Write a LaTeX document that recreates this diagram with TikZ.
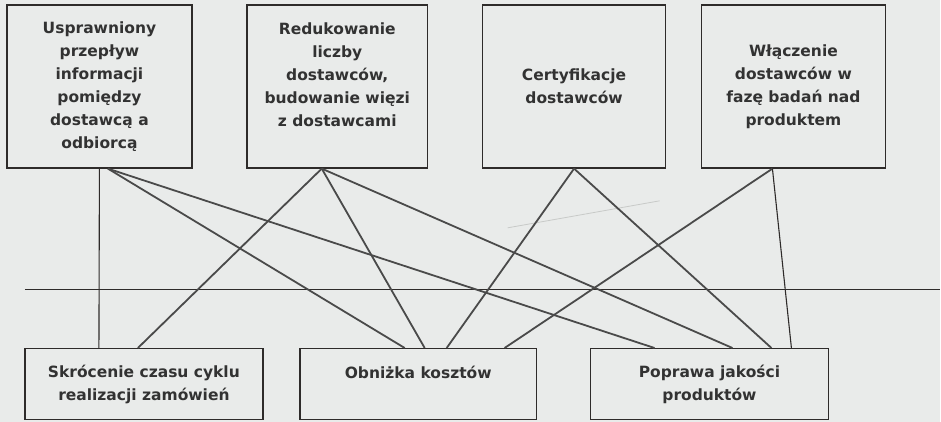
\documentclass[tikz,border=0pt]{standalone}
\usepackage{fontspec}
\setmainfont{DejaVu Sans}
\usepackage{tikz}
\definecolor{paper}{RGB}{233,235,234}
\definecolor{ink}{RGB}{50,50,50}
\definecolor{wire}{RGB}{74,74,74}
\definecolor{rule}{RGB}{46,43,42}
\definecolor{ghost}{RGB}{200,202,200}

\begin{document}
\begin{tikzpicture}[x=1pt, y=-1pt,
		box/.style={draw=rule, line width=1.5pt, fill=paper, text=ink, align=center, inner sep=0pt,
			font=\fontsize{15.5}{23}\selectfont\bfseries},
		topbox/.style={box, minimum width=#1, minimum height=163},
		botbox/.style={box, minimum width=#1, minimum height=71},
		link/.style={wire, line width=1.8pt},
		thinlink/.style={rule, line width=1.1pt}]
		%%%%% START %%%%%
		
		\fill[paper] (0, 0) rectangle (941, 422);
		
		\node[topbox=185] (inf) at (99.5, 86.5) {Usprawniony\\przepływ\\informacji\\pomiędzy\\dostawcą a\\odbiorcą};
		\node[topbox=181] (red) at (337.5, 86.5) {Redukowanie\\liczby\\dostawców,\\budowanie więzi\\z dostawcami\\\mbox{}};
		\node[topbox=183] (cert) at (574.5, 86.5) {Certyfikacje\\dostawców};
		\node[topbox=184] (wlacz) at (794, 86.5) {Włączenie\\dostawców w\\fazę badań nad\\produktem};
		
		\node[botbox=238] (skr) at (144, 384.5) {Skrócenie czasu cyklu\\realizacji zamówień};
		\node[botbox=237] (obn) at (418.5, 384.5) {Obniżka kosztów\\\mbox{}};
		\node[botbox=238] (popr) at (710, 384.5) {Poprawa jakości\\produktów};
		
		\draw[ghost, line width=0.8pt] (508, 228) -- (660, 201);
		\draw[rule, line width=1.4pt] (25, 290) -- (941, 290);
		
		\draw[thinlink] (inf.south) -- ([xshift=-45pt]skr.north);
		\draw[link] ([xshift=8.5pt]inf.south) -- ([xshift=-13.5pt]obn.north);
		\draw[link] ([xshift=8.5pt]inf.south) -- ([xshift=-55pt]popr.north);
		
		\draw[link] ([xshift=-15.5pt]red.south) -- ([xshift=-6pt]skr.north);
		\draw[link] ([xshift=-15.5pt]red.south) -- ([xshift=6.5pt]obn.north);
		\draw[link] ([xshift=-15.5pt]red.south) -- ([xshift=23pt]popr.north);
		
		\draw[link] (cert.south) -- ([xshift=28.5pt]obn.north);
		\draw[link] (cert.south) -- ([xshift=62pt]popr.north);
		
		\draw[link] ([xshift=-21pt]wlacz.south) -- ([xshift=86.5pt]obn.north);
		\draw[thinlink] ([xshift=-21pt]wlacz.south) -- ([xshift=82pt]popr.north);
		
		%%%%% END %%%%%
\end{tikzpicture}
\end{document}
